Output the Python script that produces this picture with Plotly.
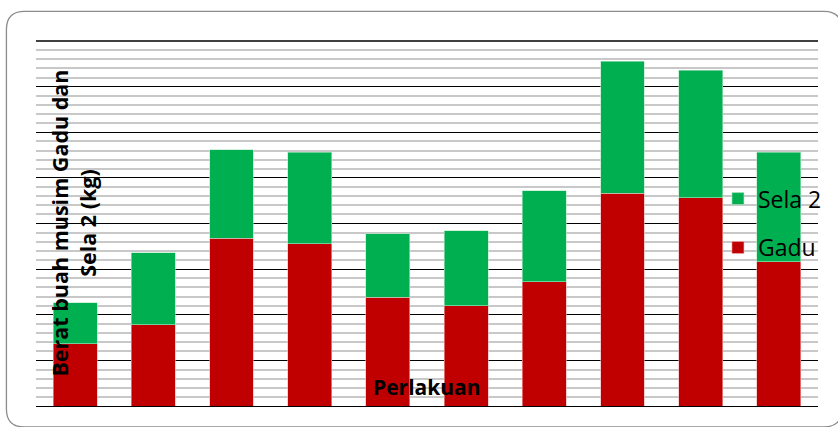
import plotly.graph_objects as go

categories = ["1", "2", "3", "4", "5", "6", "7", "8", "9", "10"]
gadu = [6.8, 8.9, 18.4, 17.8, 11.9, 11.0, 13.6, 23.3, 22.8, 15.8]
sela2 = [4.5, 7.9, 9.7, 10.0, 7.0, 8.2, 10.0, 14.5, 14.0, 12.0]

W, H = 838, 427
L, R, T, B = 35.6, 19.9, 41, 21.4
pw, ph = W - L - R, H - T - B

def px(x):
    return (x - L) / pw

def py(y):
    return (H - B - y) / ph

fig = go.Figure()
fig.add_trace(go.Bar(x=categories, y=gadu, name="Gadu", legendgroup="g", legendrank=2,
                     marker=dict(color="#C00000", line=dict(width=0.6, color="#f2b3b3"))))
fig.add_trace(go.Bar(x=categories, y=sela2, name="Sela 2", legendgroup="s", legendrank=1,
                     marker=dict(color="#00B050", line=dict(width=0.6, color="#b3e8c9"))))

# rounded border
x0, y0, x1, y1, r = 6, 11.5, 842, 426.5, 18
path = (f"M {px(x0 + r)},{py(y0)} L {px(x1 - r)},{py(y0)} "
        f"Q {px(x1)},{py(y0)} {px(x1)},{py(y0 + r)} L {px(x1)},{py(y1 - r)} "
        f"Q {px(x1)},{py(y1)} {px(x1 - r)},{py(y1)} L {px(x0 + r)},{py(y1)} "
        f"Q {px(x0)},{py(y1)} {px(x0)},{py(y1 - r)} L {px(x0)},{py(y0 + r)} "
        f"Q {px(x0)},{py(y0)} {px(x0 + r)},{py(y0)} Z")
fig.add_shape(type="path", path=path, xref="paper", yref="paper",
              line=dict(color="#8c8c8c", width=1.3), layer="below")
# top major gridline at the end of the range
fig.add_shape(type="line", xref="paper", yref="paper", x0=0, x1=1, y0=1, y1=1,
              line=dict(color="#000000", width=1.3), layer="below")

font = "Open Sans, Liberation Sans, sans-serif"
fig.add_annotation(x=px(73), y=py(223), xref="paper", yref="paper", textangle=-90,
                   text="<b>Berat buah musim Gadu dan<br>Sela 2 (kg)</b>", showarrow=False,
                   font=dict(family=font, size=21.5, color="black"), xanchor="center", yanchor="middle")
fig.add_annotation(x=px(427), y=py(387), xref="paper", yref="paper",
                   text="<b>Perlakuan</b>", showarrow=False,
                   font=dict(family=font, size=21, color="black"), xanchor="center", yanchor="middle")

fig.update_layout(
    width=W, height=H,
    margin=dict(l=L, r=R, t=T, b=B, pad=0, autoexpand=False),
    barmode="stack", bargap=0.438,
    paper_bgcolor="white", plot_bgcolor="white",
    font=dict(family=font, color="black"),
    showlegend=True,
    legend=dict(x=px(718), y=py(177), xanchor="left", yanchor="top",
                bgcolor="rgba(0,0,0,0)", traceorder="grouped",
                font=dict(size=23, family=font), itemwidth=30, tracegroupgap=16),
    xaxis=dict(showticklabels=False, showgrid=False, zeroline=False, ticks="",
               showline=False),
    yaxis=dict(range=[0, 40], dtick=5, showticklabels=False, ticks="",
               showgrid=True, gridcolor="#000000", gridwidth=1.3, zeroline=True,
               zerolinecolor="#000000", zerolinewidth=1.3,
               minor=dict(dtick=1, showgrid=True, gridcolor="#c8c8c8", gridwidth=1.5)),
)

fig.write_html("out.html", config={"displayModeBar": False},
               post_script="document.body.style.margin='0';document.body.style.overflow='hidden';")
